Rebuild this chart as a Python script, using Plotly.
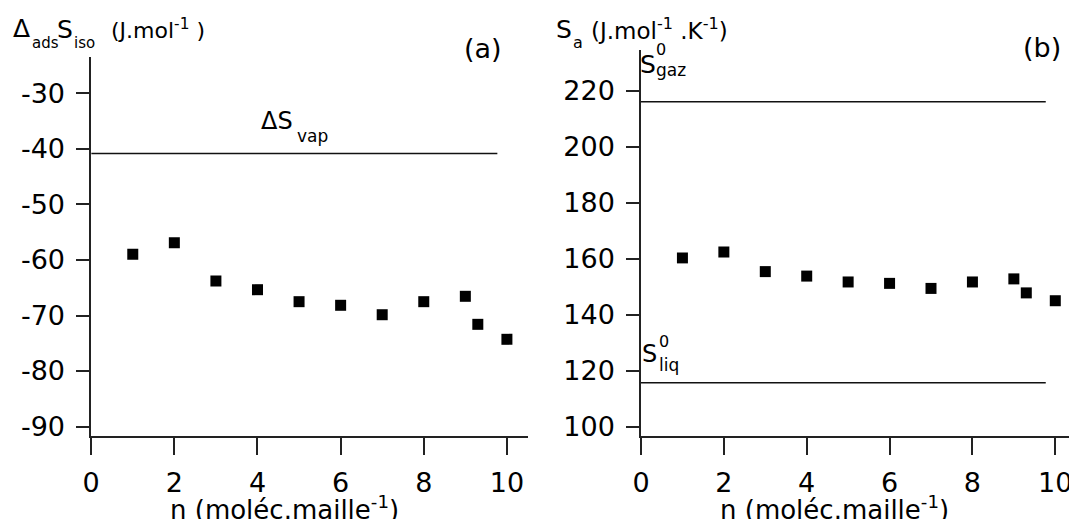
import plotly.graph_objects as go

# ---- data ----
n_vals = [1, 2, 3, 4, 5, 6, 7, 8, 9, 9.3, 10]
ds_iso = [-58.97, -56.88, -63.78, -65.35, -67.51, -68.16, -69.86, -67.51, -66.54, -71.59, -74.29]
s_a = [160.4, 162.5, 155.5, 153.9, 151.8, 151.3, 149.5, 151.8, 152.9, 147.9, 145.1]
ref_x = [0, 9.77]
ds_vap = -40.8
s_gaz = 216.2
s_liq = 115.8
x_ticks = [0, 2, 4, 6, 8, 10]
y1_ticks = [-90, -80, -70, -60, -50, -40, -30]
y2_ticks = [100, 120, 140, 160, 180, 200, 220]

W, H = 1077, 519
OFF = 8  # page body margin in the browser
FONT = "DejaVu Sans"


def fx(p):
    return (p - OFF) / W


def fy(p):
    return 1 - (p - OFF) / H


fig = go.Figure()
mk = dict(symbol="square", size=11, color="black")
ln = dict(color="#111111", width=1.5)
fig.add_trace(go.Scatter(x=n_vals, y=ds_iso, mode="markers", marker=mk, xaxis="x", yaxis="y"))
fig.add_trace(go.Scatter(x=ref_x, y=[ds_vap, ds_vap], mode="lines", line=ln, xaxis="x", yaxis="y"))
fig.add_trace(go.Scatter(x=n_vals, y=s_a, mode="markers", marker=mk, xaxis="x2", yaxis="y2"))
fig.add_trace(go.Scatter(x=ref_x, y=[s_gaz, s_gaz], mode="lines", line=ln, xaxis="x2", yaxis="y2"))
fig.add_trace(go.Scatter(x=ref_x, y=[s_liq, s_liq], mode="lines", line=ln, xaxis="x2", yaxis="y2"))

tf = dict(family=FONT, size=27, color="black")
common_x = dict(range=[0, 10.5], tickvals=x_ticks, ticktext=[str(v) for v in x_ticks],
                ticks="outside", ticklen=17, tickwidth=1.5,
                tickcolor="#222", showline=True, linecolor="#222", linewidth=1.5, showgrid=False,
                zeroline=False, tickfont=tf, ticklabelstandoff=5, automargin=False)
common_y = dict(ticks="outside", ticklen=13, tickwidth=1.5, tickcolor="#222", showline=True,
                linecolor="#222", linewidth=1.5, showgrid=False, zeroline=False, tickfont=tf,
                ticklabelstandoff=6, automargin=False)

fig.update_layout(
    template="none",
    width=W, height=H, margin=dict(l=0, r=0, t=0, b=0, pad=0), autosize=False,
    paper_bgcolor="white", plot_bgcolor="white", showlegend=False,
    font=dict(family=FONT, color="black"),
    xaxis=dict(domain=[fx(91.2), fx(527.7)], anchor="y", **common_x),
    yaxis=dict(domain=[fy(436), fy(56.8)], range=[-91.71, -23.39], tickvals=y1_ticks,
               ticktext=[str(v) for v in y1_ticks], anchor="x", **common_y),
    xaxis2=dict(domain=[fx(641), fx(1076)], anchor="y2", **common_x),
    yaxis2=dict(domain=[fy(436), fy(49.7)], range=[96.79, 234.75], tickvals=y2_ticks,
                ticktext=[str(v) for v in y2_ticks], anchor="x2", **common_y),
)


def mid(baseline, size):
    # vertical centre of the text box for a given baseline
    return baseline - 0.346 * size


anns = [
    # left y title pieces
    ("Δ", 12, mid(37.2, 25), 25),
    ("ads", 31, mid(48, 15), 15),
    ("S", 56, mid(37.9, 25), 25),
    ("iso", 73, mid(48, 15), 15),
    ("(J.mol<sup>-1</sup> )", 110, mid(37.2, 22) - 0.5, 22),
    # right y title pieces
    ("S", 555, mid(37.7, 25), 25),
    ("a", 572, mid(48, 16), 16),
    ("(J.mol<sup>-1</sup> .K<sup>-1</sup>)", 590, mid(37.2, 23) - 0.5, 23),
    # x titles (centered)
    ("n (moléc.maille<sup>-1</sup>)", 284, 508, 26, "center"),
    ("n (moléc.maille<sup>-1</sup>)", 834.5, 508, 26, "center"),
    # panel labels
    ("(a)", 483, 48, 27, "center"),
    ("(b)", 1041.7, 47.5, 27, "center"),
    # reference-line labels
    ("ΔS", 260, mid(129.3, 24), 24),
    ("vap", 296, mid(141.7, 17), 17),
    ("S", 639, mid(73, 25), 25),
    ("0", 655, mid(55, 16), 16),
    ("gaz", 655, mid(76, 17), 17),
    ("S", 641, mid(362, 24), 24),
    ("0", 658, mid(347, 16), 16),
    ("liq", 658, mid(371, 17), 17),
]
for a in anns:
    text, x, y, size = a[:4]
    xa = a[4] if len(a) > 4 else "left"
    fig.add_annotation(xref="paper", yref="paper", showarrow=False, text=text,
                       x=fx(x), y=fy(y), xanchor=xa, yanchor="middle", borderpad=0,
                       font=dict(family=FONT, size=size, color="black"))

fig.write_html("out.html")
